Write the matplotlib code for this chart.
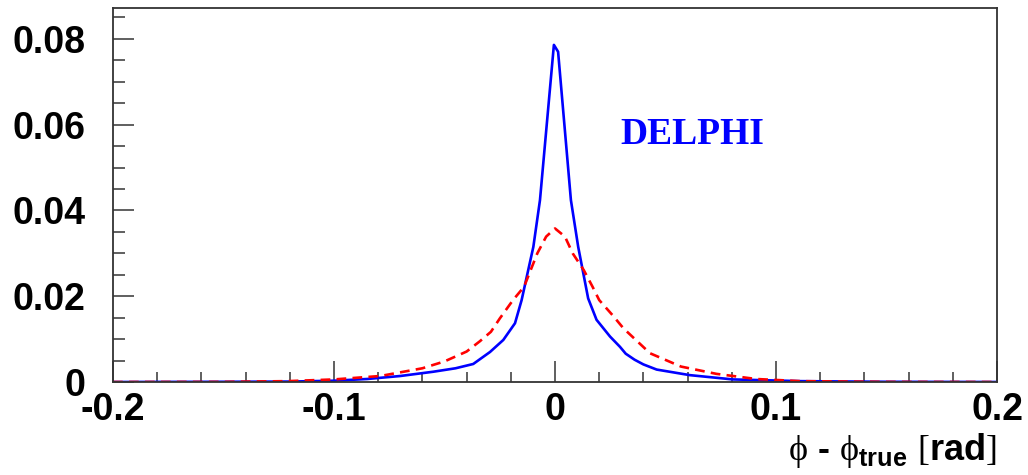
import matplotlib
matplotlib.use("Agg")
import matplotlib.pyplot as plt
from matplotlib.ticker import MultipleLocator
from matplotlib.font_manager import FontProperties

# ---- data ----
phi_blue = [-0.200, -0.150, -0.120, -0.100, -0.085, -0.070, -0.055, -0.045, -0.037,
            -0.0294, -0.0234, -0.0181, -0.0151, -0.0128, -0.0098, -0.0068, -0.0005,
            0.0014, 0.0072, 0.0105, 0.0150, 0.0188, 0.0249, 0.0294, 0.0320, 0.0360,
            0.040, 0.046, 0.061, 0.0805, 0.111, 0.150, 0.200]
dens_blue = [0.0, 0.00005, 0.0001, 0.0003, 0.0007, 0.0014, 0.0024, 0.0032, 0.0042,
             0.0070, 0.0098, 0.0137, 0.0191, 0.0245, 0.0315, 0.0424, 0.0786,
             0.0770, 0.0424, 0.0315, 0.0195, 0.0145, 0.0106, 0.0082, 0.0066, 0.0052,
             0.0041, 0.0029, 0.0016, 0.0006, 0.0002, 0.00005, 0.0]

phi_red = [-0.200, -0.150, -0.121, -0.100, -0.079, -0.060, -0.050, -0.040, -0.034,
           -0.029, -0.025, -0.019, -0.014, -0.008, -0.004, 0.000, 0.0045, 0.008,
           0.013, 0.017, 0.020, 0.026, 0.031, 0.043, 0.057, 0.073, 0.091, 0.111,
           0.150, 0.200]
dens_red = [0.0, 0.00003, 0.0002, 0.0006, 0.0014, 0.0032, 0.0048, 0.0071, 0.0095,
            0.0117, 0.0148, 0.0191, 0.0222, 0.0300, 0.0339, 0.0358, 0.0339, 0.0300,
            0.0261, 0.0222, 0.0191, 0.0156, 0.0125, 0.0067, 0.0036, 0.0019, 0.0007,
            0.0002, 0.00003, 0.0]

xticks = [-0.2, -0.1, 0.0, 0.1, 0.2]
xticklabels = ["-0.2", "-0.1", "0", "0.1", "0.2"]
yticks = [0.0, 0.02, 0.04, 0.06, 0.08]
yticklabels = ["0", "0.02", "0.04", "0.06", "0.08"]
experiment = "DELPHI"

# ---- style ----
plt.rcParams['mathtext.fontset'] = 'custom'
plt.rcParams['mathtext.rm'] = 'Liberation Serif'
plt.rcParams['mathtext.bf'] = 'Liberation Sans:bold'
plt.rcParams['lines.scale_dashes'] = False

fig = plt.figure(figsize=(10.28, 4.75), dpi=100)
ax = fig.add_axes([113/1028, 1 - 382/475, (997-113)/1028, (382-8)/475])

ax.plot(phi_blue, dens_blue, color='#0000ff', lw=1.9, solid_joinstyle='round')
ax.plot(phi_red, dens_red, color='#ff0000', lw=1.9, dashes=(7, 4.5))

ax.set_xlim(-0.2, 0.2)
ax.set_ylim(0, 0.0872)

ax.set_xticks(xticks)
ax.set_xticklabels(xticklabels)
ax.set_yticks(yticks)
ax.set_yticklabels(yticklabels)
ax.xaxis.set_minor_locator(MultipleLocator(0.02))
ax.yaxis.set_minor_locator(MultipleLocator(0.005))

fp = FontProperties(family='Liberation Sans', weight='bold', size=27)
for lab in ax.get_xticklabels() + ax.get_yticklabels():
    lab.set_fontproperties(fp)

ax.tick_params(axis='both', which='both', direction='in', color='#444444', width=1.2,
               top=False, right=False)
ax.tick_params(axis='y', which='major', length=15, pad=20)
ax.tick_params(axis='y', which='minor', length=8.5)
ax.tick_params(axis='x', which='major', length=15, pad=7)
ax.tick_params(axis='x', which='minor', length=7.5)

for s in ax.spines.values():
    s.set_color('#333333')
    s.set_linewidth(1.3)

ax.text(620/1028, 1 - 135/475, experiment, transform=fig.transFigure,
        family='Liberation Serif', weight='bold', size=27, color='#0000ff',
        ha='left', va='center')

fig.text(997/1028, 1 - 450/475,
         r'$\mathrm{ϕ}$ - $\mathrm{ϕ}_{\mathbf{true}}$ $\mathrm{[}$rad$\mathrm{]}$',
         family='Liberation Sans', weight='bold', size=26, ha='right', va='center')

fig.savefig('out.png', dpi=100)
